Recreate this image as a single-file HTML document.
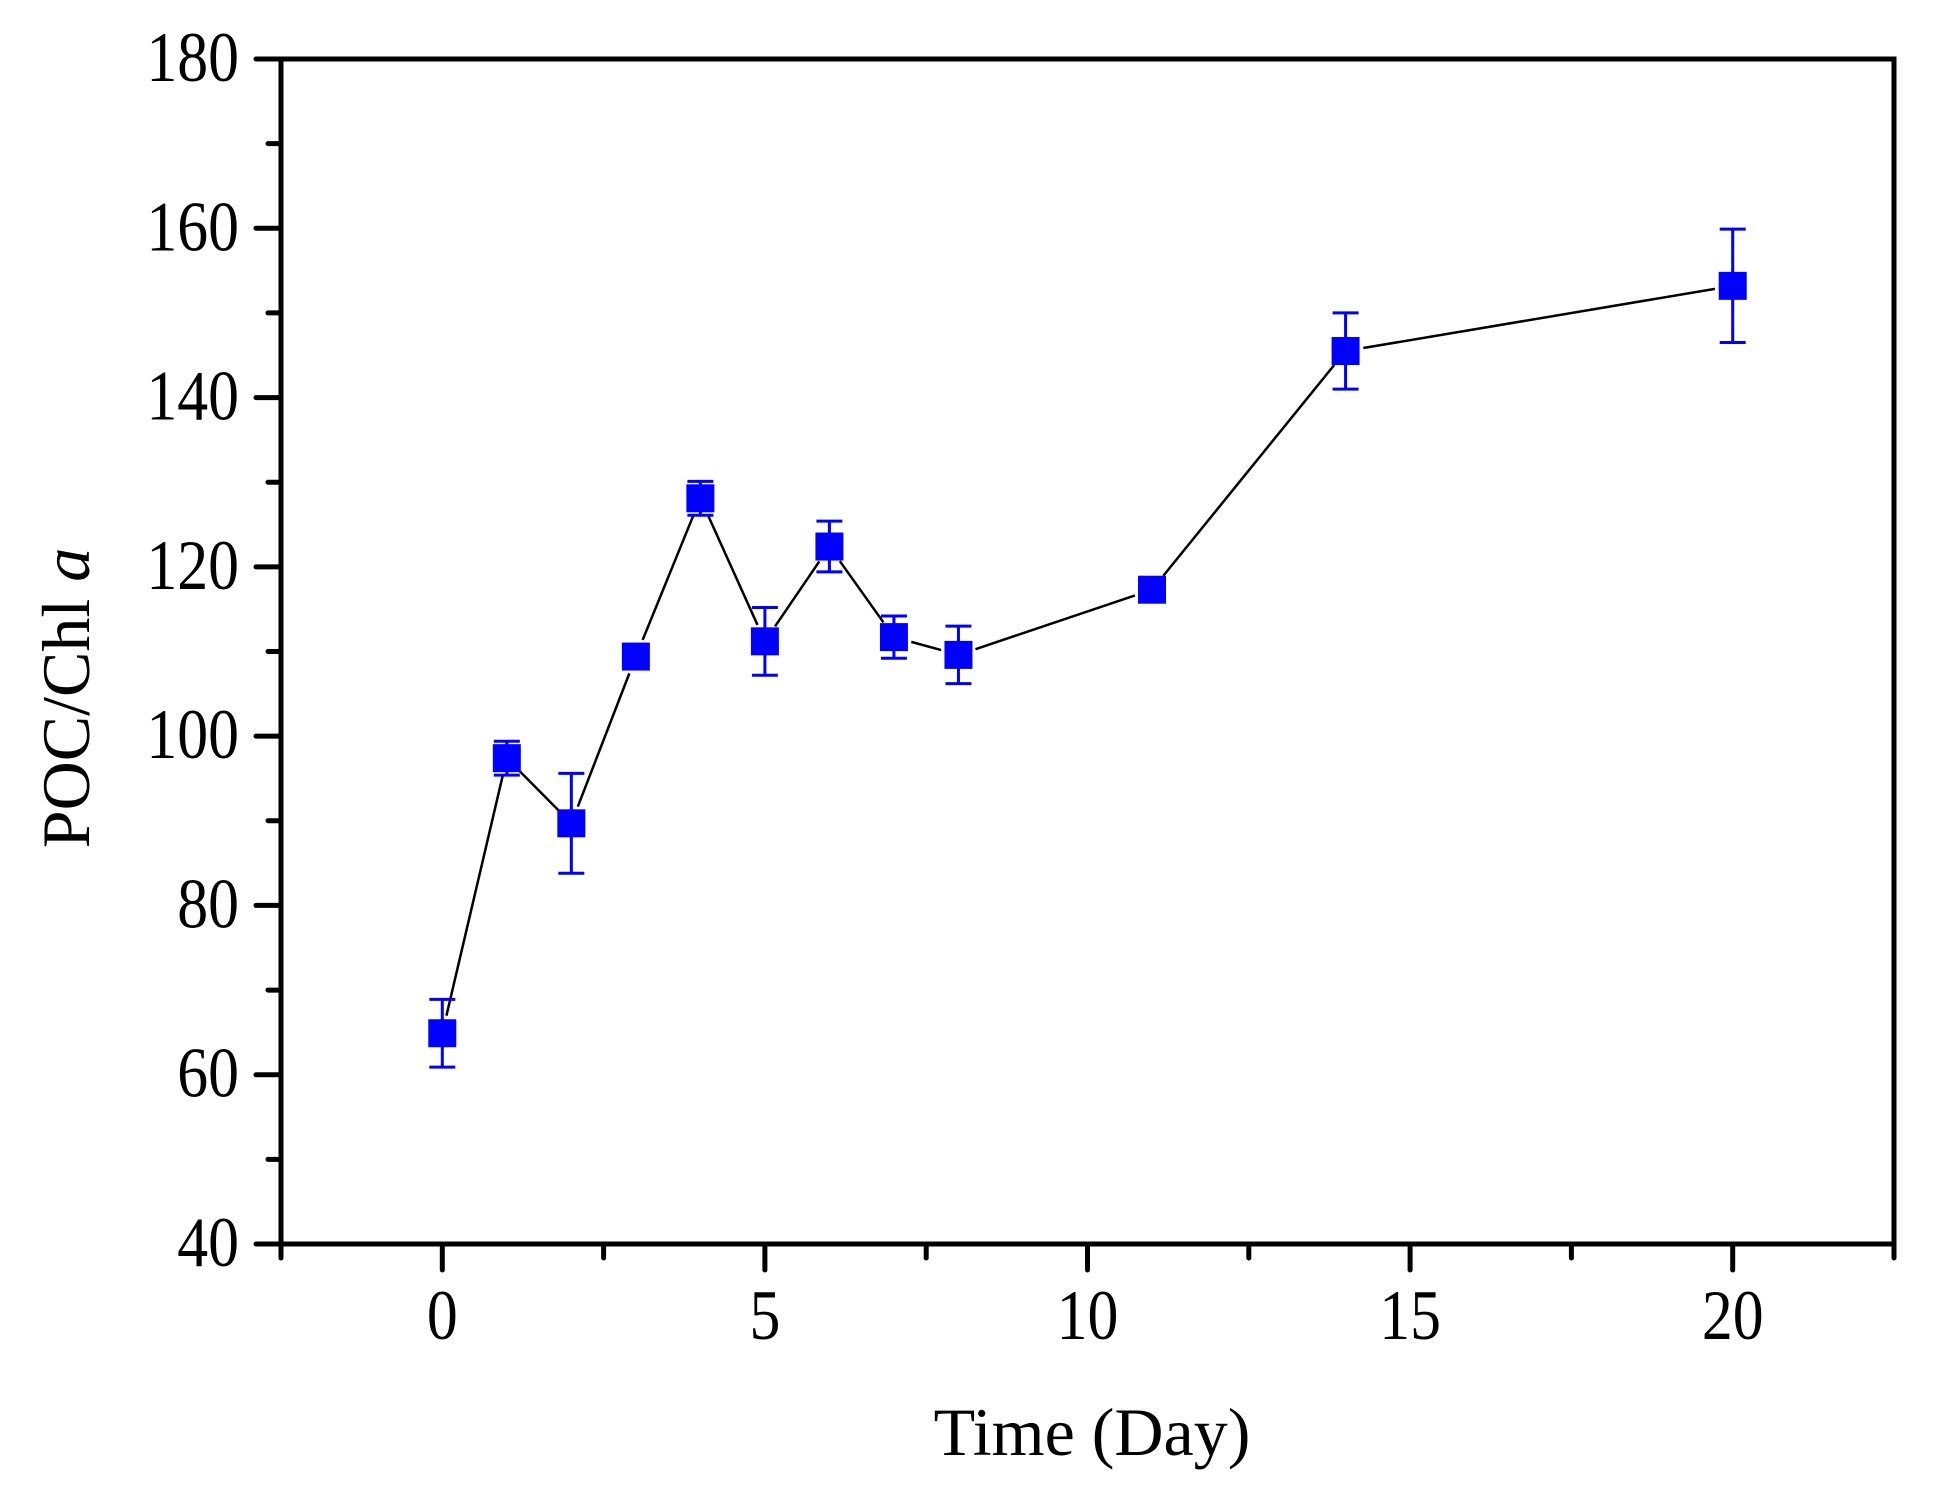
<!DOCTYPE html>
<html><head><meta charset="utf-8"><style>
html,body{margin:0;padding:0;background:#fff;}
svg{display:block;}
text{font-family:"Liberation Serif",serif;fill:#000;}
</style></head><body>
<svg id="chart" width="1941" height="1494" viewBox="0 0 1941 1494" xmlns="http://www.w3.org/2000/svg">
<rect width="1941" height="1494" fill="#fff"/>
<g id="axes"></g>
<g id="series"></g>
<text x="1092" y="1455" font-size="68" text-anchor="middle">Time (Day)</text>
<text transform="translate(89,698) rotate(-90)" font-size="68" text-anchor="middle">POC/Chl <tspan font-style="italic">a</tspan></text>
</svg>
<script>
const days = [0,1,2,3,4,5,6,7,8,11,14,20];
const ratios = [64.9,97.4,89.7,109.4,128.1,111.2,122.4,111.7,109.6,117.3,145.5,153.2];
const errors = [4.0,2.0,5.9,0.4,2.0,4.0,3.0,2.5,3.4,0.6,4.5,6.7];
const xTicks = [0,5,10,15,20];
const yTicks = [40,60,80,100,120,140,160,180];

const L=281,R=1894,T=59,B=1244;
const xMin=-2.5,xMax=22.5,yMin=40,yMax=180;
const X=v=>L+(v-xMin)/(xMax-xMin)*(R-L);
const Y=v=>B-(v-yMin)/(yMax-yMin)*(B-T);
const NS="http://www.w3.org/2000/svg";
function mk(parent,tag,attrs){const e=document.createElementNS(NS,tag);for(const k in attrs)e.setAttribute(k,attrs[k]);parent.appendChild(e);return e;}
const ax=document.getElementById('axes');
const frame=mk(ax,'rect',{x:L,y:T,width:R-L,height:B-T,fill:'none',stroke:'#000','stroke-width':5});


for(let v=-2.5;v<=22.5+1e-9;v+=2.5){
  const major=xTicks.includes(v);
  const t=mk(ax,'line',{x1:X(v),x2:X(v),y1:B,y2:B+(major?26:14),stroke:'#000','stroke-width':5,'stroke-linecap':'round'});
  
  
}
xTicks.forEach(v=>{
  const t=mk(ax,'text',{transform:`translate(${X(v)},1339) scale(0.87,1)`,'font-size':71,'text-anchor':'middle'});t.textContent=v;
  
  
});
for(let v=40;v<=180;v+=10){
  const major=yTicks.includes(v);
  const t=mk(ax,'line',{x1:L,x2:L-(major?25:13),y1:Y(v),y2:Y(v),stroke:'#000','stroke-width':5,'stroke-linecap':'round'});
  
  
}
yTicks.forEach(v=>{
  const t=mk(ax,'text',{transform:`translate(239,${Y(v)+22}) scale(0.87,1)`,'font-size':71,'text-anchor':'end'});t.textContent=v;
  
  
});
const sg=document.getElementById('series');
for(let i=0;i<days.length-1;i++){
  const x1=X(days[i]),y1=Y(ratios[i]),x2=X(days[i+1]),y2=Y(ratios[i+1]);
  const d=Math.hypot(x2-x1,y2-y1),g=18;
  if(d<=2*g)continue;
  const ux=(x2-x1)/d,uy=(y2-y1)/d;
  const s=mk(sg,'line',{x1:x1+ux*g,y1:y1+uy*g,x2:x2-ux*g,y2:y2-uy*g,stroke:'#000','stroke-width':2.5});
  
  
}
days.forEach((d,i)=>{
  const cx=X(d),cy=Y(ratios[i]),top=Y(ratios[i]+errors[i]),bot=Y(ratios[i]-errors[i]);
  const g=mk(sg,'g',{});
  
  
  const eb=mk(g,'path',{d:`M${cx},${top}V${bot}M${cx-13},${top}H${cx+13}M${cx-13},${bot}H${cx+13}`,stroke:'#0000ff','stroke-width':3,fill:'none'});
  
  
  const m=mk(g,'rect',{x:cx-14,y:cy-14,width:28,height:28,fill:'#0000ff'});
  
  
});
</script>
</body></html>
